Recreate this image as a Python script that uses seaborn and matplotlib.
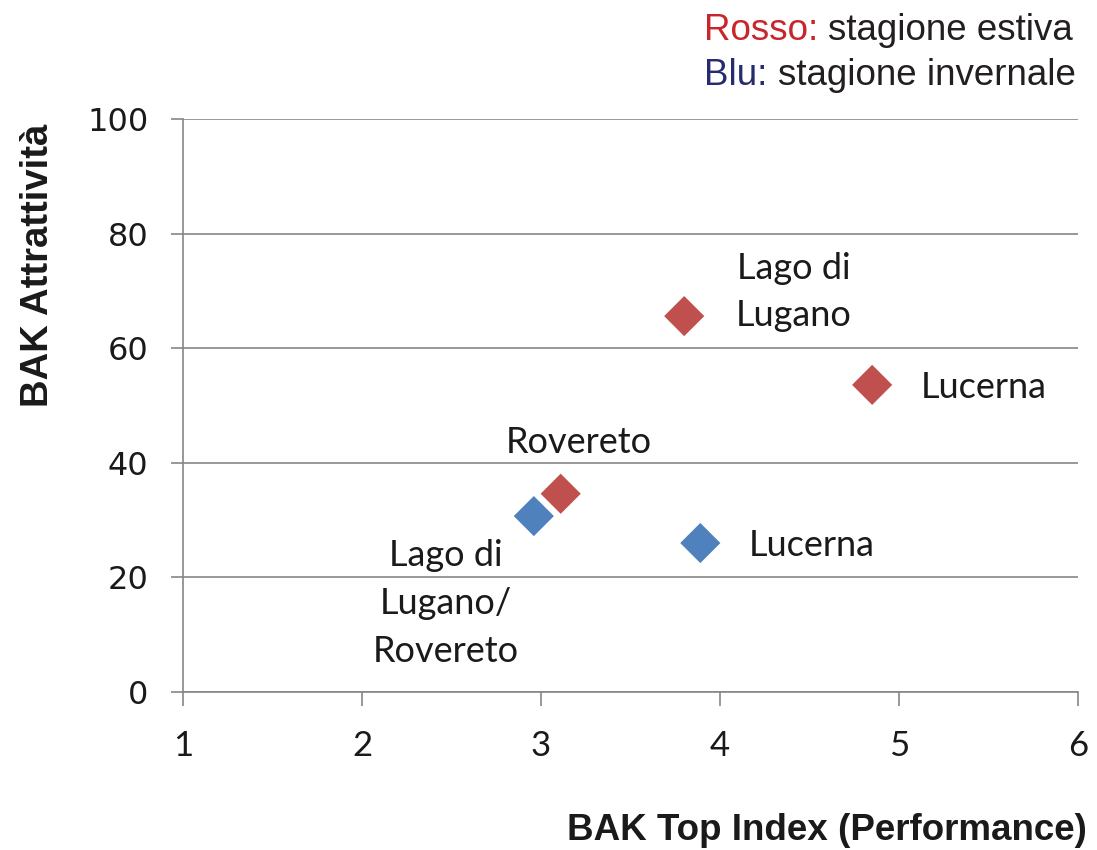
import pandas as pd
import seaborn as sns
import matplotlib.pyplot as plt

# --- dati ---
stagione = ['invernale', 'invernale', 'estiva', 'estiva', 'estiva']
localita = ['Lago di Lugano/Rovereto', 'Lucerna', 'Rovereto', 'Lago di Lugano', 'Lucerna']
top_index = [2.96, 3.89, 3.11, 3.80, 4.85]
attrattivita = [30.7, 26.0, 34.6, 65.6, 53.6]

etichette = ['Lago di\nLugano/\nRovereto', 'Lucerna', 'Rovereto', 'Lago di\nLugano', 'Lucerna']
etichette_x = [2.47, 4.16, 3.21, 4.41, 5.12]
etichette_y = [15.5, 25.5, 43.6, 69.8, 53.2]
etichette_ha = ['center', 'left', 'center', 'center', 'left']

colori = {'estiva': '#C0504D', 'invernale': '#4F81BD'}
GRIGIO = '#868686'

df = pd.DataFrame({'stagione': stagione, 'localita': localita,
                   'top_index': top_index, 'attrattivita': attrattivita})

sns.set_theme(style='white')
plt.rcParams['font.family'] = ['Lato', 'DejaVu Sans']

fig = plt.figure(figsize=(10.97, 8.5), dpi=100)
ax = fig.add_axes([183 / 1097, 1 - 692 / 850, 895 / 1097, 573 / 850])

sns.scatterplot(data=df, x='top_index', y='attrattivita', hue='stagione',
                palette=colori, marker='D', s=460, edgecolor='white',
                linewidth=1.0, legend=False, ax=ax, zorder=3)

for testo, tx, ty, ha in zip(etichette, etichette_x, etichette_y, etichette_ha):
    ax.text(tx, ty, testo, ha=ha, va='center', fontsize=26, color='#1a1a1a',
            linespacing=1.55, family=['Lato', 'DejaVu Sans'])

ax.set_xlim(1, 6)
ax.set_ylim(0, 100)
ax.set_xticks(range(1, 7))
ax.set_yticks(range(0, 101, 20))

ax.yaxis.grid(True, color=GRIGIO, linewidth=1.2)
ax.xaxis.grid(False)
for lato in ['top', 'right']:
    ax.spines[lato].set_visible(False)
for lato in ['left', 'bottom']:
    ax.spines[lato].set_color(GRIGIO)
    ax.spines[lato].set_linewidth(1.2)

ax.tick_params(axis='x', direction='out', length=10, width=1.2, color=GRIGIO,
               pad=17, labelsize=25, labelcolor='#1a1a1a', bottom=True)
ax.tick_params(axis='y', direction='out', length=9, width=1.2, color=GRIGIO,
               pad=16, labelsize=23, labelcolor='#1a1a1a', left=True)
for lab in ax.get_yticklabels():
    lab.set_family('DejaVu Sans')

ax.set_xlabel('BAK Top Index (Performance)', fontsize=26.5, fontweight='bold',
              family='Liberation Sans', color='#1a1a1a', ha='right', va='center')
ax.xaxis.set_label_coords(1.010, -0.241)
ax.set_ylabel('BAK Attrattività', fontsize=27.5, fontweight='bold',
              family='Liberation Sans', color='#1a1a1a', va='center')
ax.yaxis.set_label_coords(-0.162, 0.745)

# legenda testuale in alto a destra
t1 = fig.text(1073 / 1097, 1 - 40 / 850, 'stagione estiva', ha='right', va='baseline',
              fontsize=26.5, family='Liberation Sans', color='#231F20')
ax.annotate('Rosso: ', xy=(0, 0), xycoords=t1, ha='right', va='bottom',
            fontsize=26.5, family='Liberation Sans', color='#C8262C',
            annotation_clip=False)
t2 = fig.text(1076 / 1097, 1 - 85 / 850, 'stagione invernale', ha='right', va='baseline',
              fontsize=26.5, family='Liberation Sans', color='#231F20')
ax.annotate('Blu: ', xy=(0, 0), xycoords=t2, ha='right', va='bottom',
            fontsize=26.5, family='Liberation Sans', color='#262C6E',
            annotation_clip=False)

fig.savefig('out.png', dpi=100)
